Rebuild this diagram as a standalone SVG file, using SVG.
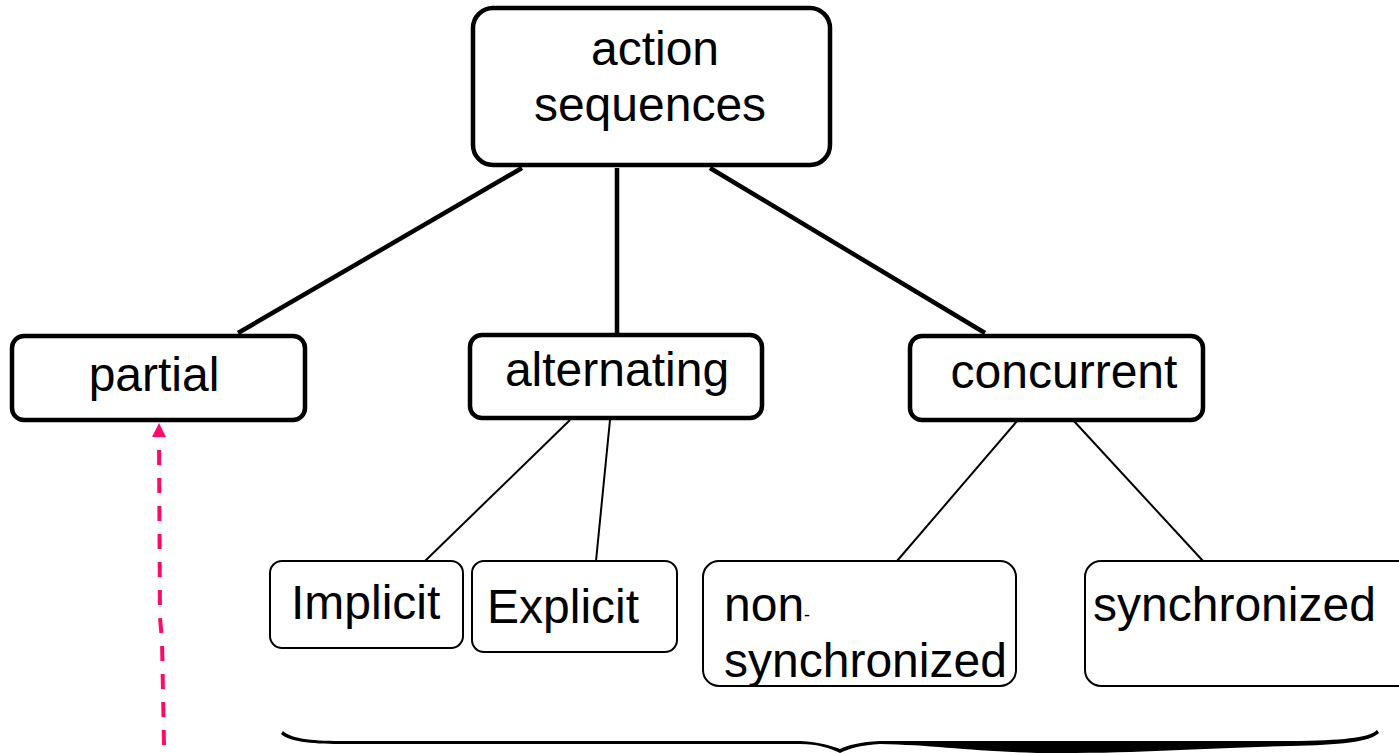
<svg xmlns="http://www.w3.org/2000/svg" width="1399" height="753" viewBox="0 0 1399 753">
  <defs>
    <style>
      .lbl { font-family: "Liberation Sans", Arial, sans-serif; font-size: 48px; fill: #000; }
      .major { fill: #fff; stroke: #000; stroke-width: 4.5; }
      .minor { fill: #fff; stroke: #000; stroke-width: 2; }
      .thick { stroke: #000; stroke-width: 4.5; fill: none; }
      .thin { stroke: #000; stroke-width: 2; fill: none; }
      .pointer { fill: none; stroke: #ff0a6c; stroke-width: 4; stroke-dasharray: 15 13; }
    </style>
  </defs>

  <rect width="1399" height="753" fill="#fff"/>

  <!-- tree connectors -->
  <g id="connectors">
    <line class="thick" x1="522" y1="168" x2="238" y2="333"/>
    <line class="thick" x1="617" y1="168" x2="617" y2="333"/>
    <line class="thick" x1="710" y1="168" x2="985" y2="333"/>
    <line class="thin" x1="570" y1="420" x2="425" y2="561"/>
    <line class="thin" x1="610" y1="420" x2="596" y2="561"/>
    <line class="thin" x1="1018" y1="420" x2="897" y2="561"/>
    <line class="thin" x1="1073" y1="420" x2="1203" y2="561"/>
    <!-- dashed pointer up to "partial" -->
    <path class="pointer" d="M164,745 L162,640 L160,618 L159,441"/>
    <polygon points="159,423 166,437 152,437" fill="#ff0a6c"/>
  </g>

  <g id="node-action-sequences">
    <rect class="major" x="473" y="8" width="357" height="157" rx="20"/>
    <text class="lbl" x="655" y="65" text-anchor="middle">action</text>
    <text class="lbl" x="650" y="121" text-anchor="middle">sequences</text>
  </g>

  <g id="node-partial">
    <rect class="major" x="12" y="336" width="293" height="84" rx="12"/>
    <text class="lbl" x="154" y="391" text-anchor="middle">partial</text>
  </g>

  <g id="node-alternating">
    <rect class="major" x="470" y="335" width="292" height="83" rx="12"/>
    <text class="lbl" x="617" y="386" text-anchor="middle">alternating</text>
  </g>

  <g id="node-concurrent">
    <rect class="major" x="910" y="336" width="293" height="84" rx="12"/>
    <text class="lbl" x="1064" y="388" text-anchor="middle">concurrent</text>
  </g>

  <g id="node-implicit">
    <rect class="minor" x="270" y="561" width="193" height="87" rx="12"/>
    <text class="lbl" x="291" y="619">Implicit</text>
  </g>

  <g id="node-explicit">
    <rect class="minor" x="472" y="561" width="205" height="91" rx="12"/>
    <text class="lbl" x="487" y="623">Explicit</text>
  </g>

  <g id="node-non-synchronized">
    <rect class="minor" x="703" y="561" width="313" height="125" rx="16"/>
    <text class="lbl" x="724" y="621">non<tspan font-size="18">-</tspan></text>
    <text class="lbl" x="724" y="677">synchronized</text>
  </g>

  <g id="node-synchronized">
    <rect class="minor" x="1085" y="561" width="330" height="125" rx="16"/>
    <text class="lbl" x="1093" y="621">synchronized</text>
  </g>

  <!-- underbrace spanning the leaf nodes -->
  <path id="brace" fill="#000" d="M283,731 C290,738 310,741 340,741 L800,741 C820,742 832,746 840,749 C848,745 860,742 880,741 L1300,741 C1350,740 1370,737 1377,730 L1379,733 C1370,742 1340,745 1290,746 C1200,748 1150,753 1060,753 C980,753 940,745 880,744 C862,745 850,748 840,753 C830,748 818,744 800,744 L340,744 C310,744 288,741 281,734 Z"/>
</svg>
